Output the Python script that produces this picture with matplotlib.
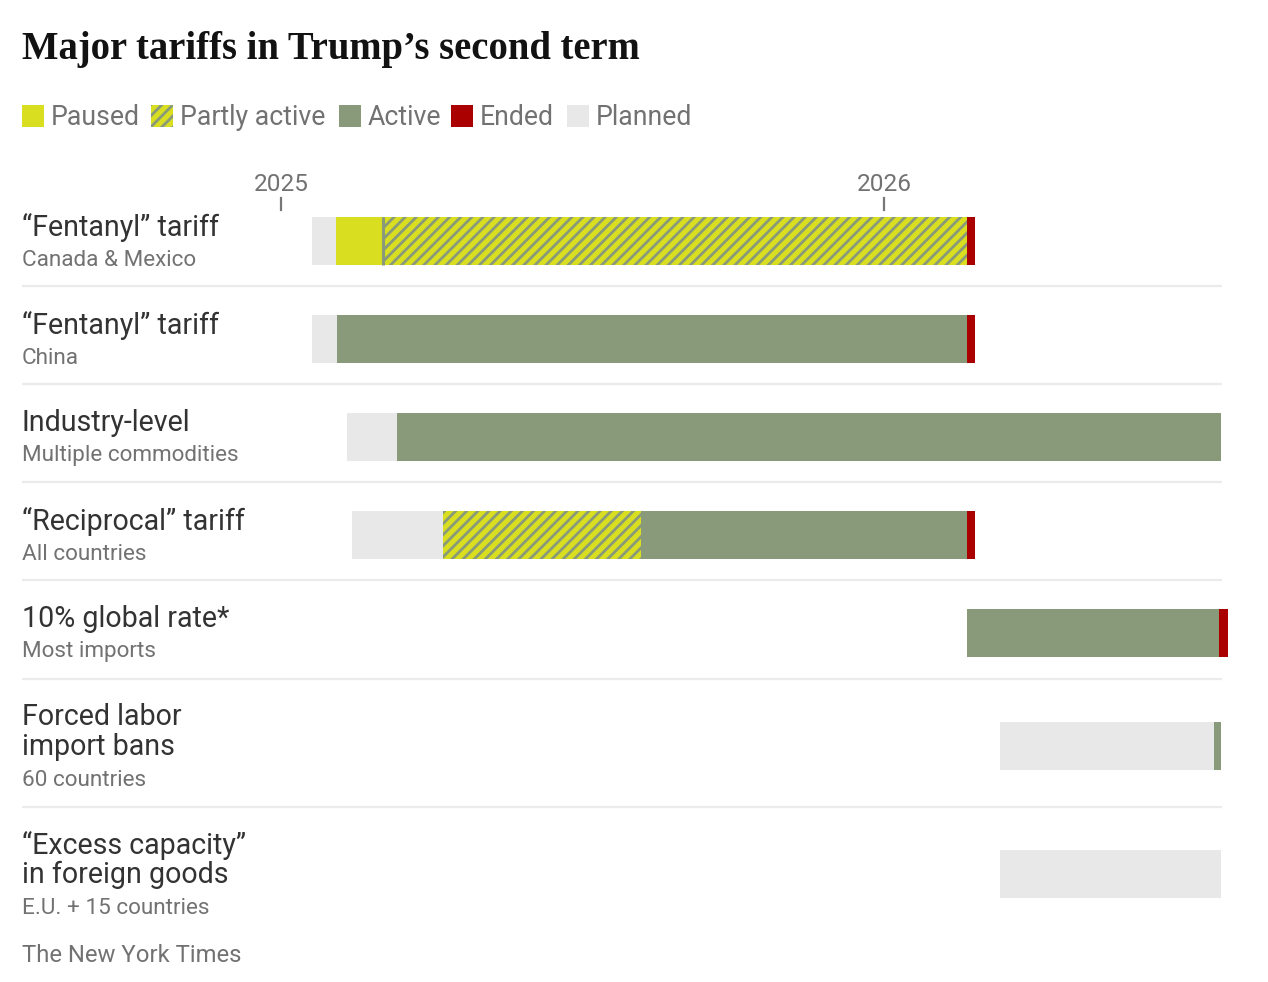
import numpy as np
import matplotlib
matplotlib.use("Agg")
import matplotlib.pyplot as plt
import matplotlib.dates as mdates
from matplotlib.patches import Rectangle

# colours of each status
COLORS = {
    "Paused": "#d9de20",
    "Partly active": "#d9de20",
    "Active": "#889a79",
    "Ended": "#aa0000",
    "Planned": "#e8e8e8",
}
legend_names = ["Paused", "Partly active", "Active", "Ended", "Planned"]

# row labels
titles = [
    ["\u201cFentanyl\u201d tariff"],
    ["\u201cFentanyl\u201d tariff"],
    ["Industry-level"],
    ["\u201cReciprocal\u201d tariff"],
    ["10% global rate*"],
    ["Forced labor", "import bans"],
    ["\u201cExcess capacity\u201d", "in foreign goods"],
]
subtitles = [
    "Canada & Mexico",
    "China",
    "Multiple commodities",
    "All countries",
    "Most imports",
    "60 countries",
    "E.U. + 15 countries",
]

# segment boundaries for each row (last date = end of last segment)
fent_cm_dates = ["2025-01-20", "2025-02-03", "2025-03-04", "2026-02-20", "2026-02-25"]
fent_cm_status = ["Planned", "Paused", "Partly active", "Ended"]

fent_cn_dates = ["2025-01-20", "2025-02-04", "2026-02-20", "2026-02-25"]
fent_cn_status = ["Planned", "Active", "Ended"]

industry_dates = ["2025-02-10", "2025-03-12", "2026-07-24"]
industry_status = ["Planned", "Active"]

recip_dates = ["2025-02-13", "2025-04-09", "2025-08-07", "2026-02-20", "2026-02-25"]
recip_status = ["Planned", "Partly active", "Active", "Ended"]

global_dates = ["2026-02-20", "2026-07-23", "2026-07-28"]
global_status = ["Active", "Ended"]

labor_dates = ["2026-03-12", "2026-07-20", "2026-07-24"]
labor_status = ["Planned", "Active"]

excess_dates = ["2026-03-12", "2026-07-24"]
excess_status = ["Planned"]

rows_dates = [fent_cm_dates, fent_cn_dates, industry_dates, recip_dates,
              global_dates, labor_dates, excess_dates]
rows_status = [fent_cm_status, fent_cn_status, industry_status, recip_status,
               global_status, labor_status, excess_status]

year_ticks = ["2025-01-01", "2026-01-01"]
year_labels = ["2025", "2026"]

# ---- layout (pixels) ----
W, H = 1268, 982
DPI = 200
HATCH = "//////"
plt.rcParams["hatch.linewidth"] = 1.0
plt.rcParams["hatch.color"] = COLORS["Active"]
plt.rcParams["font.family"] = ["Roboto", "DejaVu Sans"]

fig = plt.figure(figsize=(W / DPI, H / DPI), dpi=DPI)
ax = fig.add_axes([0, 0, 1, 1])
ax.axis("off")

d25 = mdates.date2num(np.datetime64(year_ticks[0]))
d26 = mdates.date2num(np.datetime64(year_ticks[1]))
x25, x26 = 281, 884
per_px = (d26 - d25) / (x26 - x25)


def px2date(px):
    return d25 + (px - x25) * per_px


ax.set_xlim(px2date(0), px2date(W))
ax.set_ylim(H, 0)


def ftext(x, y, s, **kw):
    fig.text(x / W, 1 - y / H, s, **kw)


# title
ftext(22, 50, "Major tariffs in Trump\u2019s second term", family="Liberation Serif",
      weight="bold", fontsize=13.9, color="#121212", va="center")

# legend
lx = [22, 151, 339, 451, 567]
for name, x in zip(legend_names, lx):
    rect = Rectangle((x / W, 1 - 127 / H), 22 / W, 22 / H, transform=fig.transFigure,
                     facecolor=COLORS[name], edgecolor=COLORS["Active"], linewidth=0,
                     hatch=HATCH if name == "Partly active" else None)
    fig.patches.append(rect)
    ftext(x + 29, 117, name, fontsize=9.6, color="#727272", va="center")

# year ticks
for t, lab in zip(year_ticks, year_labels):
    xv = mdates.date2num(np.datetime64(t))
    ax.plot([xv, xv], [198, 210], color="#777777", lw=0.8)
    ax.text(xv, 184, lab, ha="center", va="center", fontsize=8.8, color="#727272")

# rows
centers = [241, 339, 437, 535, 633, 746, 874]
seps = [286, 384, 482, 580, 679, 807]
bar_h = 48

for sy in seps:
    ax.plot([px2date(22), px2date(1222)], [sy, sy], color="#ebebeb", lw=0.8,
            solid_capstyle="butt")

for c, dates, stats, tl, sub in zip(centers, rows_dates, rows_status, titles, subtitles):
    nums = mdates.date2num(np.array(dates, dtype="datetime64[D]"))
    for i, st in enumerate(stats):
        ax.barh(c, nums[i + 1] - nums[i], left=nums[i], height=bar_h,
                color=COLORS[st], edgecolor=COLORS["Active"], linewidth=0,
                hatch=HATCH if st == "Partly active" else None)
        # divider where a paused tariff becomes partly active
        if st == "Partly active" and i > 0 and stats[i - 1] == "Paused":
            ax.plot([nums[i], nums[i]], [c - bar_h / 2, c + bar_h / 2],
                    color=COLORS["Active"], lw=1.1, solid_capstyle="butt")
    y0 = c - 14 - 15 * (len(tl) - 1)
    for k, line in enumerate(tl):
        ftext(22, y0 + 30 * k, line, fontsize=10.3, color="#333333", va="center")
    ftext(22, y0 + 30 * (len(tl) - 1) + 33, sub, fontsize=8.1, color="#727272", va="center")

ftext(22, 956, "The New York Times", fontsize=8.6, color="#727272", va="center")

fig.savefig("out.png", dpi=DPI)
